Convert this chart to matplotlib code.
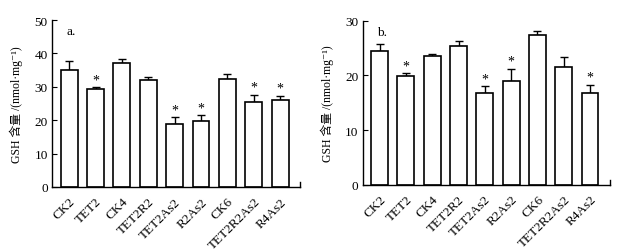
import matplotlib
matplotlib.use("Agg")
import matplotlib.pyplot as plt
import numpy as np

categories = ["CK2", "TET2", "CK4", "TET2R2", "TET2As2", "R2As2", "CK6", "TET2R2As2", "R4As2"]
a_values = [35.0, 29.4, 37.2, 32.0, 18.8, 19.8, 32.3, 25.6, 26.2]
a_errors = [2.7, 0.5, 1.0, 1.0, 2.2, 1.8, 1.5, 2.0, 1.1]
a_sig = [False, True, False, False, True, True, False, True, True]
b_values = [24.5, 19.9, 23.6, 25.4, 16.8, 19.0, 27.4, 21.6, 16.8]
b_errors = [1.2, 0.5, 0.3, 0.9, 1.2, 2.2, 0.7, 1.7, 1.5]
b_sig = [False, True, False, False, True, True, False, False, True]

plt.rcParams['font.family'] = ['Liberation Serif', 'Noto Sans CJK SC', 'DejaVu Sans']
plt.rcParams['axes.linewidth'] = 1.0

fig = plt.figure(figsize=(6.25, 2.51), dpi=100)
ax_a = fig.add_axes([0.0832, 0.251, 0.397, 0.665])
ax_b = fig.add_axes([0.580, 0.260, 0.396, 0.654])

def draw(ax, values, errors, sig, ymax, step, label):
    x = np.arange(len(categories))
    ax.bar(x, values, width=0.64, color='white', edgecolor='black', linewidth=1.2, zorder=2)
    ax.errorbar(x, values, yerr=[np.zeros(len(errors)), errors], fmt='none',
                ecolor='black', elinewidth=1.0, capsize=3, capthick=1.0, zorder=1)
    for xi, v, e, s in zip(x, values, errors, sig):
        if s:
            ax.text(xi, v + e + ymax * 0.005, "*", ha='center', va='bottom', fontsize=10)
    ax.set_xlim(-0.65, len(categories) - 1 + 0.76)
    ax.set_ylim(0, ymax)
    ax.set_yticks(np.arange(0, ymax + 0.1, step))
    ax.set_xticks(x)
    ax.set_xticklabels(categories, rotation=45, ha='right', rotation_mode='anchor', fontsize=9.5)
    ax.tick_params(axis='x', length=0, pad=6)
    ax.tick_params(axis='y', direction='in', length=3.5, labelsize=9.5, pad=3)
    ax.spines['top'].set_visible(False)
    ax.spines['right'].set_visible(False)
    ax.set_ylabel("GSH 含量 /(nmol·mg\u207b\u00b9)", fontsize=8.5, labelpad=8)
    ax.text(0.06, 0.97, label, transform=ax.transAxes, fontsize=9.5, va='top', ha='left')
    ax.plot([1, 1], [0, 0.03], transform=ax.transAxes, color='black', lw=1.0, clip_on=False)

draw(ax_a, a_values, a_errors, a_sig, 50, 10, "a.")
draw(ax_b, b_values, b_errors, b_sig, 30, 10, "b.")

fig.savefig("out.png", dpi=100)
